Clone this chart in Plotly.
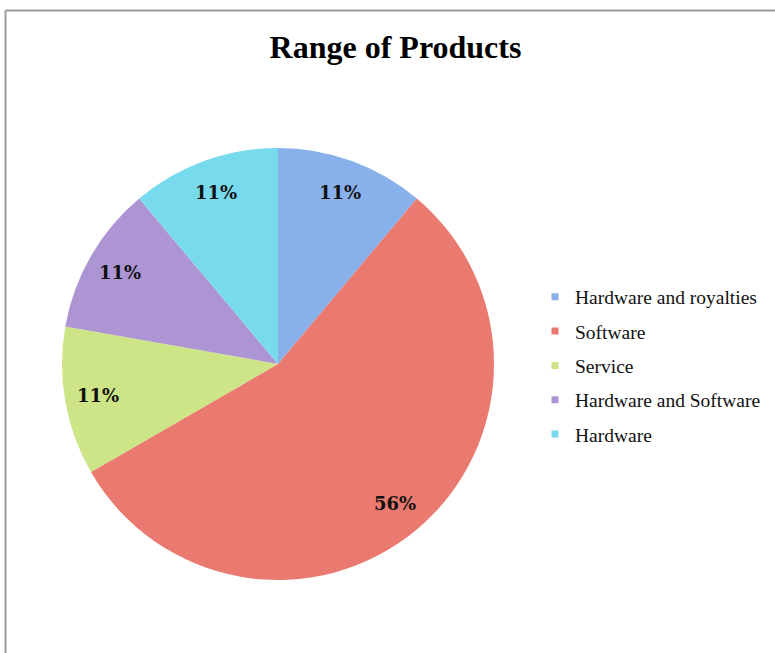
import math
import plotly.graph_objects as go

categories = ["Hardware and royalties", "Software", "Service", "Hardware and Software", "Hardware"]
values = [1, 5, 1, 1, 1]
colors = ["#88b1ec", "#ea7a6f", "#cde487", "#ad95d3", "#78daed"]

W, H = 775, 653
cx, cy, r = 278, 364, 216

fig = go.Figure()
fig.add_trace(go.Pie(
    labels=categories, values=values, sort=False, direction="clockwise", rotation=0,
    marker=dict(colors=colors, line=dict(width=0)),
    textposition="none", hoverinfo="skip",
    showlegend=False,
    domain=dict(x=[(cx - r) / W, (cx + r) / W], y=[(H - cy - r) / H, (H - cy + r) / H]),
))

for cat, col in zip(categories, colors):
    fig.add_trace(go.Scatter(
        x=[None], y=[None], mode="markers", name=cat, legendgroup=cat,
        marker=dict(symbol="square", size=7, color=col),
    ))

# percentage labels placed at each slice's mid-angle
total = sum(values)
annotations = []
cum = 0
for v in values:
    mid = (cum + v / 2) / total * 2 * math.pi
    cum += v
    px = cx + 0.845 * r * math.sin(mid)
    py = cy - 0.845 * r * math.cos(mid)
    annotations.append(dict(
        x=px / W, y=1 - py / H, xref="paper", yref="paper", showarrow=False,
        text="<b>%d%%</b>" % round(100 * v / total),
        font=dict(family="DejaVu Serif", size=18, color="#111111"),
        xanchor="center", yanchor="middle",
    ))

fig.update_layout(
    width=W, height=H,
    margin=dict(l=0, r=0, t=0, b=0),
    paper_bgcolor="white", plot_bgcolor="white",
    xaxis=dict(visible=False), yaxis=dict(visible=False),
    title=dict(text="<b>Range of Products</b>", x=395.5 / W, xanchor="center", y=1 - 47 / H, yanchor="middle",
               font=dict(family="Liberation Serif", size=32, color="black")),
    legend=dict(x=535 / W, xanchor="left", y=1 - 365.5 / H, yanchor="middle",
                font=dict(family="Liberation Serif", size=19.5, color="#111111"),
                tracegroupgap=6, traceorder="grouped", itemwidth=30),
    annotations=annotations,
    shapes=[
        dict(type="line", xref="paper", yref="paper", x0=5.5 / W, x1=1, y0=1 - 10.5 / H, y1=1 - 10.5 / H,
             line=dict(color="#9a9a9a", width=2)),
        dict(type="line", xref="paper", yref="paper", x0=5.5 / W, x1=5.5 / W, y0=0, y1=1 - 10.5 / H,
             line=dict(color="#9a9a9a", width=2)),
    ],
)

fig.write_html("out.html", config={"displayModeBar": False},
               post_script="document.body.style.margin='0';")
